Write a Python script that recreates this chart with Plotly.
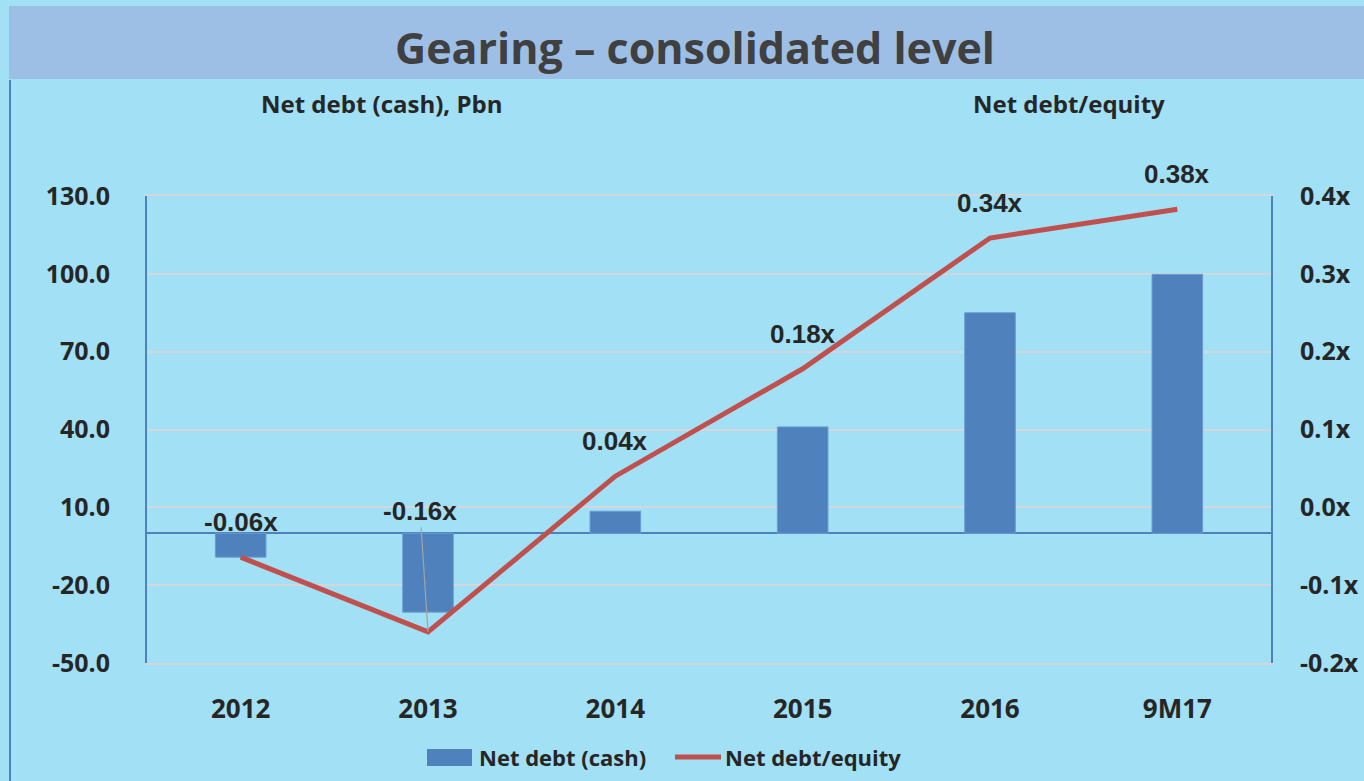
import plotly.graph_objects as go

categories = ["2012", "2013", "2014", "2015", "2016", "9M17"]
net_debt = [-9.2, -30.4, 8.5, 41.0, 85.0, 99.8]
gearing = [-0.064, -0.16, 0.04, 0.178, 0.346, 0.383]
gearing_labels = ["-0.06x", "-0.16x", "0.04x", "0.18x", "0.34x", "0.38x"]
left_ticks = [-50, -20, 10, 40, 70, 100, 130]
right_ticks = [-0.2, -0.1, 0.0, 0.1, 0.2, 0.3, 0.4]
series_names = ["Net debt (cash)", "Net debt/equity"]

BG = "#a1e0f5"
BAND = "#9dbfe6"
BLUE = "#4f81bd"
RED = "#c0504d"
TXT = "#262626"
GRID = "#d3d7da"
FONT = "Open Sans"
LBL = "Liberation Sans"

W, H = 1364, 781
# plot area in page pixels
L, R, T, B = 147, 1271, 196, 663
PW, PH = R - L, B - T


def px(x):
    return (x - L) / PW


def py(y):
    return (B - y) / PH


fig = go.Figure()
fig.add_trace(go.Bar(
    x=categories, y=net_debt, name=series_names[0],
    marker=dict(color=BLUE, line=dict(color="#6a9bd2", width=1)),
    width=0.27, yaxis="y", showlegend=False,
))
fig.add_trace(go.Scatter(
    x=categories, y=gearing, name=series_names[1], mode="lines",
    line=dict(color=RED, width=5), yaxis="y2", showlegend=False,
))

annotations = []
for i, (v, t) in enumerate(zip(gearing, gearing_labels)):
    if i == 1:
        annotations.append(dict(
            x=i, y=v, xref="x", yref="y2", text=f"<b>{t}</b>", showarrow=True,
            arrowhead=0, arrowwidth=1.2, arrowcolor="#a3a3a3",
            ax=-8, ay=-121, font=dict(family=LBL, size=26, color=TXT),
            standoff=0,
        ))
    else:
        annotations.append(dict(
            x=i, y=v, xref="x", yref="y2", text=f"<b>{t}</b>", showarrow=False,
            yshift=35, font=dict(family=LBL, size=26, color=TXT),
        ))

annotations.append(dict(
    text="<b>Net debt (cash), Pbn</b>", xref="paper", yref="paper",
    x=px(381), y=py(103), showarrow=False,
    font=dict(family=FONT, size=24, color=TXT), xanchor="center", yanchor="middle",
))
annotations.append(dict(
    text="<b>Net debt/equity</b>", xref="paper", yref="paper",
    x=px(1069), y=py(103), showarrow=False,
    font=dict(family=FONT, size=24, color=TXT), xanchor="center", yanchor="middle",
))
# legend texts
annotations.append(dict(
    text=f"<b>{series_names[0]}</b>", xref="paper", yref="paper",
    x=px(477), y=py(757), showarrow=False, xanchor="left", yanchor="middle",
    font=dict(family=FONT, size=22, color=TXT),
))
annotations.append(dict(
    text=f"<b>{series_names[1]}</b>", xref="paper", yref="paper",
    x=px(723), y=py(757), showarrow=False, xanchor="left", yanchor="middle",
    font=dict(family=FONT, size=22, color=TXT),
))
annotations.append(dict(
    text="<b>Gearing – consolidated level</b>", xref="paper", yref="paper",
    x=px(695), y=py(47), showarrow=False, xanchor="center", yanchor="middle",
    font=dict(family=FONT, size=43, color="#404040"),
))

shapes = [
    dict(type="rect", xref="paper", yref="paper",
         x0=px(9), x1=px(1364), y0=py(79), y1=py(6),
         fillcolor=BAND, line=dict(width=0), layer="above"),
    dict(type="line", xref="paper", yref="paper",
         x0=px(10), x1=px(10), y0=py(80), y1=py(800),
         line=dict(color=BLUE, width=2)),
    # legend symbols
    dict(type="rect", xref="paper", yref="paper",
         x0=px(427), x1=px(472), y0=py(766), y1=py(749),
         fillcolor=BLUE, line=dict(width=0)),
    dict(type="line", xref="paper", yref="paper",
         x0=px(675), x1=px(721), y0=py(757), y1=py(757),
         line=dict(color=RED, width=5)),
]

fig.update_layout(
    width=W, height=H, autosize=False,
    paper_bgcolor=BG, plot_bgcolor=BG,
    margin=dict(l=L, r=W - R, t=T, b=H - B, autoexpand=False),
    font=dict(family=FONT, color=TXT),
    showlegend=False,
    xaxis=dict(range=[-0.5, 5.5], showgrid=False, showline=True, linecolor=GRID, linewidth=2,
               mirror=True, ticks="", tickfont=dict(family=FONT, size=26, color=TXT),
               ticklabelstandoff=22, tickprefix="<b>", ticksuffix="</b>", zeroline=False,
               automargin=False),
    yaxis=dict(range=[-50, 130], tickvals=left_ticks,
               ticktext=[f"<b>{v:.1f}</b>" for v in left_ticks],
               showgrid=True, gridcolor=GRID, gridwidth=2,
               zeroline=True, zerolinecolor=BLUE, zerolinewidth=2,
               showline=True, linecolor=BLUE, linewidth=2, ticks="",
               tickfont=dict(family=FONT, size=25, color=TXT), ticklabelstandoff=30,
               automargin=False),
    yaxis2=dict(range=[-0.2, 0.4], overlaying="y", side="right", tickvals=right_ticks,
                ticktext=[f"<b>{v:.1f}x</b>" for v in right_ticks],
                showgrid=False, zeroline=False, showline=True, linecolor=BLUE, linewidth=2,
                ticks="", tickfont=dict(family=FONT, size=25, color=TXT), ticklabelstandoff=22,
                automargin=False),
    annotations=annotations,
    shapes=shapes,
)

fig.write_html(
    "out.html",
    config=dict(displayModeBar=False),
    post_script="document.body.style.margin='0';document.body.style.overflow='hidden';",
)
